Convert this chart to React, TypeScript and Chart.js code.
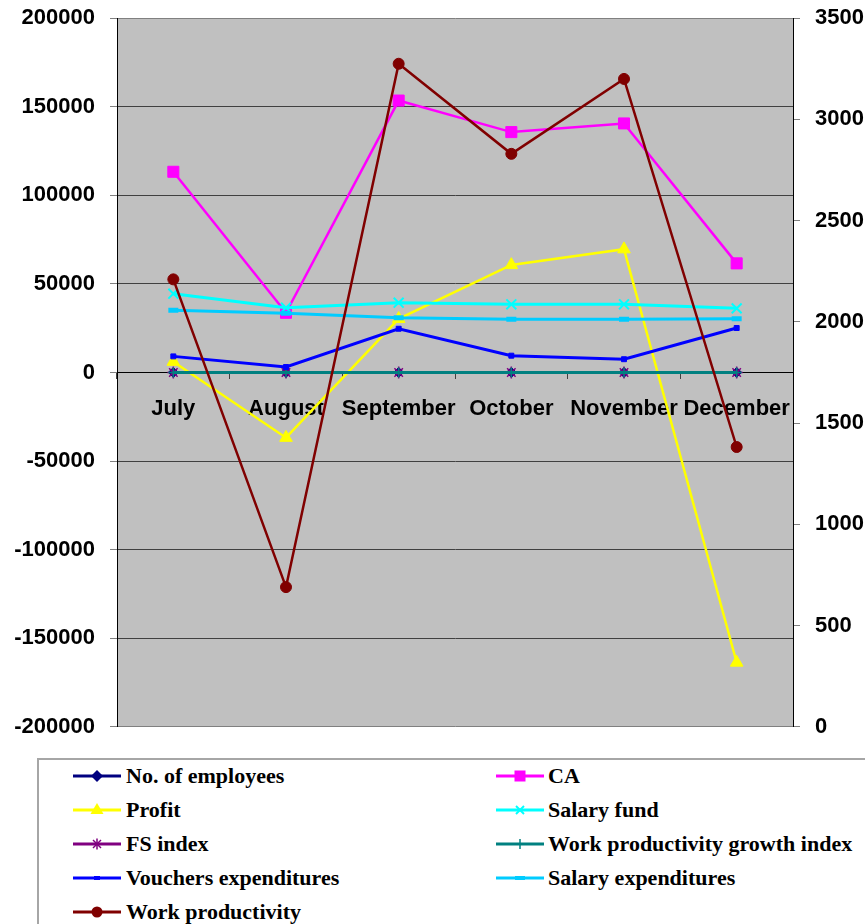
import React, { useEffect, useRef } from 'react';
import { Chart, registerables } from 'chart.js';
Chart.register(...registerables);

const months = ['July', 'August', 'September', 'October', 'November', 'December'];
const employees = [51, 49, 47, 48, 44, 45];
const ca = [113300, 33700, 153500, 135700, 140600, 61600];
const profit = [6100, -36800, 30300, 60700, 69600, -163700];
const salaryFund = [44500, 36600, 39400, 38500, 38500, 36200];
const fsIndex = [1, 0.82, 1.08, 0.98, 1, 0.94];
const wpGrowthIndex = [1, 0.31, 4.74, 0.86, 1.13, 0.43];
const vouchers = [9100, 3100, 24700, 9500, 7500, 25100];
const salaryExp = [35100, 33400, 30900, 30000, 30000, 30400];
const workProd = [2210, 690, 3275, 2830, 3200, 1382];

const leftTicks = { min: -200000, max: 200000, step: 50000 };
const rightTicks = { min: 0, max: 3500, step: 500 };

const AX_FONT = 'Arial, "Liberation Sans", sans-serif';
const LG_FONT = '"Times New Roman", "Liberation Serif", serif';

const bgPlugin = {
  id: 'plotBg',
  beforeDraw(chart: any) {
    const { ctx, chartArea: a } = chart;
    ctx.save();
    ctx.fillStyle = '#C0C0C0';
    ctx.fillRect(a.left, a.top, a.right - a.left, a.bottom - a.top);
    ctx.restore();
  },
};

type SeriesDef = {
  label: string;
  data: number[];
  color: string;
  style: string;
  radius: number;
  width: number;
  axis: string;
  pbw?: number;
};

const series: SeriesDef[] = [
  { label: 'No. of employees', data: employees, color: '#000080', style: 'rectRot', radius: 5, width: 2.5, axis: 'y' },
  { label: 'CA', data: ca, color: '#FF00FF', style: 'rect', radius: 7.8, width: 2.5, axis: 'y' },
  { label: 'Profit', data: profit, color: '#FFFF00', style: 'triangle', radius: 7.3, width: 2.5, axis: 'y' },
  { label: 'Salary fund', data: salaryFund, color: '#00FFFF', style: 'crossRot', radius: 7, width: 3, axis: 'y', pbw: 2 },
  { label: 'FS index', data: fsIndex, color: '#800080', style: 'star', radius: 6, width: 2.5, axis: 'y', pbw: 1.5 },
  { label: 'Work productivity growth index', data: wpGrowthIndex, color: '#008080', style: 'cross', radius: 5, width: 3, axis: 'y', pbw: 1.5 },
  { label: 'Vouchers expenditures', data: vouchers, color: '#0000FF', style: 'rect', radius: 3.5, width: 3, axis: 'y' },
  { label: 'Salary expenditures', data: salaryExp, color: '#00CCFF', style: 'line', radius: 5, width: 3, axis: 'y', pbw: 5 },
  { label: 'Work productivity', data: workProd, color: '#800000', style: 'circle', radius: 5.5, width: 2.5, axis: 'y1' },
];

function LegendSymbol({ s }: { s: SeriesDef }) {
  const c = s.color;
  let m: any = null;
  switch (s.style) {
    case 'rectRot':
      m = <polygon points="24,3 30,9 24,15 18,9" fill={c} />;
      break;
    case 'rect':
      m = s.radius > 5 ? <rect x={18.5} y={3.5} width={11} height={11} fill={c} /> : <rect x={21} y={7} width={6} height={4} fill={c} />;
      break;
    case 'triangle':
      m = <polygon points="24,2 30.5,13 17.5,13" fill={c} />;
      break;
    case 'crossRot':
      m = (
        <g stroke={c} strokeWidth={2}>
          <line x1={20} y1={5} x2={28} y2={13} />
          <line x1={28} y1={5} x2={20} y2={13} />
        </g>
      );
      break;
    case 'star':
      m = (
        <g stroke={c} strokeWidth={1.5}>
          <line x1={20} y1={5} x2={28} y2={13} />
          <line x1={28} y1={5} x2={20} y2={13} />
          <line x1={24} y1={3.5} x2={24} y2={14.5} />
        </g>
      );
      break;
    case 'cross':
      m = <line x1={24} y1={4} x2={24} y2={14} stroke={c} strokeWidth={1.5} />;
      break;
    case 'line':
      m = <rect x={19} y={7} width={10} height={4} fill={c} />;
      break;
    case 'circle':
      m = <circle cx={24} cy={9} r={5.5} fill={c} />;
      break;
  }
  return (
    <svg width={48} height={18} style={{ display: 'block' }}>
      <line x1={0} y1={9} x2={48} y2={9} stroke={c} strokeWidth={3} />
      {m}
    </svg>
  );
}

const legendPositions = [
  { col: 0, row: 0 },
  { col: 1, row: 0 },
  { col: 0, row: 1 },
  { col: 1, row: 1 },
  { col: 0, row: 2 },
  { col: 1, row: 2 },
  { col: 0, row: 3 },
  { col: 1, row: 3 },
  { col: 0, row: 4 },
];

const CANVAS_TOP = -10;
const CANVAS_H = 765;

export default function App() {
  const ref = useRef<HTMLCanvasElement | null>(null);

  useEffect(() => {
    if (!ref.current) return;
    const n = series.length;
    const chart = new Chart(ref.current, {
      type: 'line',
      data: {
        labels: months,
        datasets: series.map((s, i) => ({
          label: s.label,
          data: s.data,
          yAxisID: s.axis,
          borderColor: s.color,
          backgroundColor: s.color,
          borderWidth: s.width,
          pointStyle: s.style as any,
          pointRadius: s.radius,
          pointBorderWidth: s.pbw ?? 1,
          pointBackgroundColor: s.color,
          pointBorderColor: s.color,
          tension: 0,
          fill: false,
          order: n - i,
        })),
      },
      options: {
        responsive: false,
        animation: false,
        devicePixelRatio: 1,
        layout: { padding: { left: 0, right: 0, top: 0, bottom: 0 } },
        plugins: { legend: { display: false }, tooltip: { enabled: false } },
        scales: {
          x: {
            type: 'category',
            position: { y: 0 } as any,
            offset: true,
            grid: { display: true, drawOnChartArea: false, drawTicks: true, tickLength: 6, tickColor: '#404040', offset: true },
            border: { display: true, color: '#000000', width: 1 },
            ticks: {
              autoSkip: false,
              maxRotation: 0,
              minRotation: 0,
              padding: 17,
              color: '#000000',
              font: { family: AX_FONT, size: 22, weight: 'bold' },
            },
          },
          y: {
            position: 'left',
            min: leftTicks.min,
            max: leftTicks.max,
            ticks: {
              stepSize: leftTicks.step,
              padding: 15,
              color: '#000000',
              font: { family: AX_FONT, size: 22, weight: 'bold' },
              callback: (v: any) => String(v),
            },
            grid: {
              color: (c: any) => (c.tick && (c.tick.value === leftTicks.max || c.tick.value === leftTicks.min) ? '#808080' : '#404040'),
              lineWidth: 1,
              tickColor: '#808080',
              tickLength: 7,
              drawTicks: true,
            },
            border: { color: '#000000', width: 1 },
            afterFit: (s: any) => {
              s.width = 117;
            },
          },
          y1: {
            position: 'right',
            min: rightTicks.min,
            max: rightTicks.max,
            ticks: {
              stepSize: rightTicks.step,
              padding: 15,
              color: '#000000',
              font: { family: AX_FONT, size: 22, weight: 'bold' },
              callback: (v: any) => String(v),
            },
            grid: { drawOnChartArea: false, tickColor: '#808080', tickLength: 7, drawTicks: true },
            border: { color: '#000000', width: 1 },
            afterFit: (s: any) => {
              s.width = 72;
            },
          },
        },
      } as any,
      plugins: [bgPlugin],
    });
    return () => chart.destroy();
  }, []);

  return (
    <div style={{ position: 'fixed', left: 0, top: 0, width: 865, height: 924, background: '#ffffff', overflow: 'hidden' }}>
      <canvas
        ref={ref}
        width={865}
        height={CANVAS_H}
        style={{ position: 'absolute', left: 0, top: CANVAS_TOP, width: 865, height: CANVAS_H }}
      />
      <div
        style={{
          position: 'absolute',
          left: 37,
          top: 758,
          width: 860,
          height: 200,
          border: '2px solid #a6a6a6',
          boxSizing: 'border-box',
        }}
      />
      {series.map((s, i) => {
        const p = legendPositions[i];
        const symLeft = p.col === 0 ? 73 : 496;
        const textLeft = p.col === 0 ? 126 : 548;
        const cy = 776 + p.row * 34;
        return (
          <React.Fragment key={s.label}>
            <div style={{ position: 'absolute', left: symLeft, top: cy - 9 }}>
              <LegendSymbol s={s} />
            </div>
            <div
              style={{
                position: 'absolute',
                left: textLeft,
                top: cy - 13,
                height: 26,
                lineHeight: '26px',
                fontFamily: LG_FONT,
                fontWeight: 'bold',
                fontSize: 22,
                color: '#000',
                whiteSpace: 'nowrap',
              }}
            >
              {s.label}
            </div>
          </React.Fragment>
        );
      })}
    </div>
  );
}
